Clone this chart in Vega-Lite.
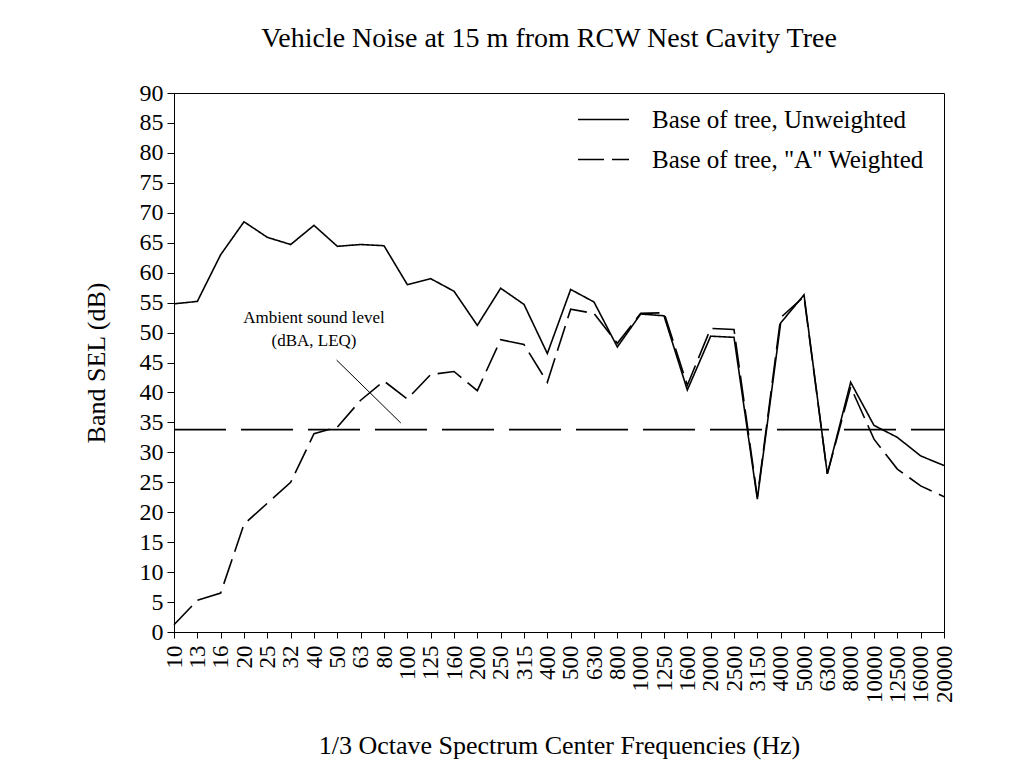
{
  "$schema": "https://vega.github.io/schema/vega-lite/v6.json",
  "width": 770,
  "height": 539,
  "autosize": {"type": "none"},
  "padding": {"left": 174, "top": 93, "right": 90, "bottom": 140},
  "background": "white",
  "title": {"text": "Vehicle Noise at 15 m from RCW Nest Cavity Tree", "font": "Liberation Serif", "fontSize": 28, "fontWeight": "normal", "color": "black", "offset": 28, "dx": -10},
  "config": {
    "view": {"stroke": "black", "strokeWidth": 1},
    "axis": {"domainColor": "black", "tickColor": "black", "labelColor": "black", "titleColor": "black", "labelFont": "Liberation Serif", "titleFont": "Liberation Serif", "titleFontWeight": "normal", "grid": false, "domainWidth": 1, "tickWidth": 1},
    "legend": {"labelFont": "Liberation Serif", "labelColor": "black"}
  },
  "datasets": {
    "spectrum": [
      {"f": "10", "i": 0, "s": "Base of tree, Unweighted", "v": 54.8},
      {"f": "13", "i": 1, "s": "Base of tree, Unweighted", "v": 55.2},
      {"f": "16", "i": 2, "s": "Base of tree, Unweighted", "v": 63.0},
      {"f": "20", "i": 3, "s": "Base of tree, Unweighted", "v": 68.5},
      {"f": "25", "i": 4, "s": "Base of tree, Unweighted", "v": 65.9},
      {"f": "32", "i": 5, "s": "Base of tree, Unweighted", "v": 64.7},
      {"f": "40", "i": 6, "s": "Base of tree, Unweighted", "v": 67.9},
      {"f": "50", "i": 7, "s": "Base of tree, Unweighted", "v": 64.4},
      {"f": "63", "i": 8, "s": "Base of tree, Unweighted", "v": 64.7},
      {"f": "80", "i": 9, "s": "Base of tree, Unweighted", "v": 64.5},
      {"f": "100", "i": 10, "s": "Base of tree, Unweighted", "v": 58.0},
      {"f": "125", "i": 11, "s": "Base of tree, Unweighted", "v": 59.0},
      {"f": "160", "i": 12, "s": "Base of tree, Unweighted", "v": 56.9},
      {"f": "200", "i": 13, "s": "Base of tree, Unweighted", "v": 51.2},
      {"f": "250", "i": 14, "s": "Base of tree, Unweighted", "v": 57.4},
      {"f": "315", "i": 15, "s": "Base of tree, Unweighted", "v": 54.7},
      {"f": "400", "i": 16, "s": "Base of tree, Unweighted", "v": 46.5},
      {"f": "500", "i": 17, "s": "Base of tree, Unweighted", "v": 57.2},
      {"f": "630", "i": 18, "s": "Base of tree, Unweighted", "v": 55.1},
      {"f": "800", "i": 19, "s": "Base of tree, Unweighted", "v": 47.6},
      {"f": "1000", "i": 20, "s": "Base of tree, Unweighted", "v": 53.1},
      {"f": "1250", "i": 21, "s": "Base of tree, Unweighted", "v": 52.8},
      {"f": "1600", "i": 22, "s": "Base of tree, Unweighted", "v": 40.4},
      {"f": "2000", "i": 23, "s": "Base of tree, Unweighted", "v": 49.4},
      {"f": "2500", "i": 24, "s": "Base of tree, Unweighted", "v": 49.2},
      {"f": "3150", "i": 25, "s": "Base of tree, Unweighted", "v": 22.2},
      {"f": "4000", "i": 26, "s": "Base of tree, Unweighted", "v": 51.6},
      {"f": "5000", "i": 27, "s": "Base of tree, Unweighted", "v": 56.3},
      {"f": "6300", "i": 28, "s": "Base of tree, Unweighted", "v": 26.4},
      {"f": "8000", "i": 29, "s": "Base of tree, Unweighted", "v": 41.7},
      {"f": "10000", "i": 30, "s": "Base of tree, Unweighted", "v": 34.5},
      {"f": "12500", "i": 31, "s": "Base of tree, Unweighted", "v": 32.5},
      {"f": "16000", "i": 32, "s": "Base of tree, Unweighted", "v": 29.4},
      {"f": "20000", "i": 33, "s": "Base of tree, Unweighted", "v": 27.8},
      {"f": "10", "i": 0, "s": "Base of tree, \"A\" Weighted", "v": 1.2},
      {"f": "13", "i": 1, "s": "Base of tree, \"A\" Weighted", "v": 5.3},
      {"f": "16", "i": 2, "s": "Base of tree, \"A\" Weighted", "v": 6.5},
      {"f": "20", "i": 3, "s": "Base of tree, \"A\" Weighted", "v": 18.0},
      {"f": "25", "i": 4, "s": "Base of tree, \"A\" Weighted", "v": 21.5},
      {"f": "32", "i": 5, "s": "Base of tree, \"A\" Weighted", "v": 25.0},
      {"f": "40", "i": 6, "s": "Base of tree, \"A\" Weighted", "v": 33.1},
      {"f": "50", "i": 7, "s": "Base of tree, \"A\" Weighted", "v": 34.2},
      {"f": "63", "i": 8, "s": "Base of tree, \"A\" Weighted", "v": 38.7},
      {"f": "80", "i": 9, "s": "Base of tree, \"A\" Weighted", "v": 41.9},
      {"f": "100", "i": 10, "s": "Base of tree, \"A\" Weighted", "v": 38.9},
      {"f": "125", "i": 11, "s": "Base of tree, \"A\" Weighted", "v": 43.0},
      {"f": "160", "i": 12, "s": "Base of tree, \"A\" Weighted", "v": 43.5},
      {"f": "200", "i": 13, "s": "Base of tree, \"A\" Weighted", "v": 40.3},
      {"f": "250", "i": 14, "s": "Base of tree, \"A\" Weighted", "v": 48.8},
      {"f": "315", "i": 15, "s": "Base of tree, \"A\" Weighted", "v": 48.0},
      {"f": "400", "i": 16, "s": "Base of tree, \"A\" Weighted", "v": 41.7},
      {"f": "500", "i": 17, "s": "Base of tree, \"A\" Weighted", "v": 53.9},
      {"f": "630", "i": 18, "s": "Base of tree, \"A\" Weighted", "v": 53.2},
      {"f": "800", "i": 19, "s": "Base of tree, \"A\" Weighted", "v": 48.2},
      {"f": "1000", "i": 20, "s": "Base of tree, \"A\" Weighted", "v": 53.2},
      {"f": "1250", "i": 21, "s": "Base of tree, \"A\" Weighted", "v": 53.3},
      {"f": "1600", "i": 22, "s": "Base of tree, \"A\" Weighted", "v": 41.2},
      {"f": "2000", "i": 23, "s": "Base of tree, \"A\" Weighted", "v": 50.7},
      {"f": "2500", "i": 24, "s": "Base of tree, \"A\" Weighted", "v": 50.5},
      {"f": "3150", "i": 25, "s": "Base of tree, \"A\" Weighted", "v": 22.5},
      {"f": "4000", "i": 26, "s": "Base of tree, \"A\" Weighted", "v": 52.5},
      {"f": "5000", "i": 27, "s": "Base of tree, \"A\" Weighted", "v": 56.0},
      {"f": "6300", "i": 28, "s": "Base of tree, \"A\" Weighted", "v": 26.4},
      {"f": "8000", "i": 29, "s": "Base of tree, \"A\" Weighted", "v": 40.9},
      {"f": "10000", "i": 30, "s": "Base of tree, \"A\" Weighted", "v": 32.2},
      {"f": "12500", "i": 31, "s": "Base of tree, \"A\" Weighted", "v": 27.2},
      {"f": "16000", "i": 32, "s": "Base of tree, \"A\" Weighted", "v": 24.4},
      {"f": "20000", "i": 33, "s": "Base of tree, \"A\" Weighted", "v": 22.6}
    ],
    "ambient": [{"i": 0, "v": 33.8, "i2": 33, "v2": 33.8}],
    "notes": [
      {"i": 6, "v": 51.6, "t": "Ambient sound level"},
      {"i": 6, "v": 47.8, "t": "(dBA, LEQ)"}
    ],
    "pointer": [{"i": 6.97, "v": 45.4, "i2": 9.72, "v2": 34.9}]
  },
  "encoding": {
    "x": {
      "field": "i", "type": "quantitative",
      "scale": {"domain": [0, 33], "nice": false, "zero": false},
      "axis": {
        "title": "1/3 Octave Spectrum Center Frequencies (Hz)",
        "titleFontSize": 26, "titlePadding": 30,
        "values": [0,1,2,3,4,5,6,7,8,9,10,11,12,13,14,15,16,17,18,19,20,21,22,23,24,25,26,27,28,29,30,31,32,33],
        "labelExpr": "['10','13','16','20','25','32','40','50','63','80','100','125','160','200','250','315','400','500','630','800','1000','1250','1600','2000','2500','3150','4000','5000','6300','8000','10000','12500','16000','20000'][datum.value]",
        "labelAngle": 270, "labelFontSize": 23, "labelPadding": 7, "tickSize": 6, "labelOverlap": false, "labelBound": false, "labelFlush": false
      }
    },
    "y": {
      "field": "v", "type": "quantitative",
      "scale": {"domain": [0, 90], "nice": false},
      "axis": {
        "title": "Band SEL (dB)", "titleFontSize": 26, "titlePadding": 30,
        "values": [0,5,10,15,20,25,30,35,40,45,50,55,60,65,70,75,80,85,90],
        "labelFontSize": 24, "labelPadding": 4, "tickSize": 7, "labelOverlap": false, "labelFlush": false
      }
    }
  },
  "layer": [
    {
      "data": {"name": "spectrum"},
      "mark": {"type": "line", "color": "black", "strokeWidth": 1.6},
      "encoding": {
        "detail": {"field": "s"},
        "strokeDash": {
          "field": "s", "type": "nominal",
          "scale": {"domain": ["Base of tree, Unweighted", "Base of tree, \"A\" Weighted"], "range": [[1, 0], [26, 8]]},
          "legend": {
            "title": null, "orient": "none", "legendX": 403, "legendY": 0,
            "symbolType": "stroke", "symbolSize": 2600, "symbolStrokeWidth": 1.5, "symbolStrokeColor": "black",
            "labelFontSize": 25, "labelOffset": 22, "rowPadding": -34, "labelLimit": 500
          }
        }
      }
    },
    {
      "data": {"name": "ambient"},
      "mark": {"type": "rule", "color": "black", "strokeWidth": 1.6, "strokeDash": [52, 15]},
      "encoding": {"x2": {"field": "i2"}, "y2": {"field": "v2"}}
    },
    {
      "data": {"name": "pointer"},
      "mark": {"type": "rule", "color": "black", "strokeWidth": 1},
      "encoding": {"x2": {"field": "i2"}, "y2": {"field": "v2"}}
    },
    {
      "data": {"name": "notes"},
      "mark": {"type": "text", "font": "Liberation Serif", "fontSize": 17, "color": "black", "align": "center", "baseline": "alphabetic"},
      "encoding": {"text": {"field": "t"}}
    }
  ]
}
